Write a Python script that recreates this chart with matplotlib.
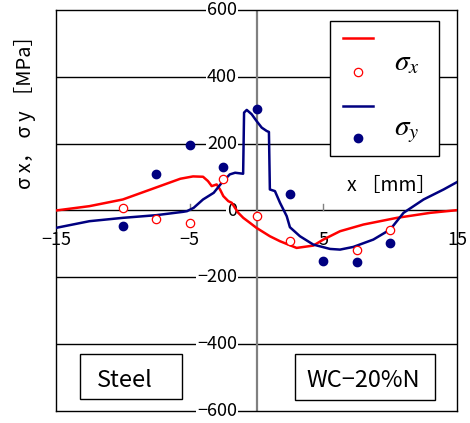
import matplotlib
matplotlib.use("Agg")
import matplotlib.pyplot as plt
from matplotlib.patches import Rectangle
from matplotlib.lines import Line2D

plt.rcParams['font.family'] = ['Noto Sans CJK JP', 'DejaVu Sans']
plt.rcParams['mathtext.fontset'] = 'stix'

# FEM curve sigma_x
sx_line_x = [-15, -12.5, -10, -7.5, -5.7, -4.75, -4.0, -3.63, -3.35, -2.98, -2.73, -2.48,
             -2.11, -1.85, -1.61, -1.36, -0.99, -0.49, 0, 1.0, 1.76, 3.0, 4.25, 5.0,
             6.25, 8.0, 10.5, 13.0, 15]
sx_line_y = [0, 13, 33, 69, 95, 102, 101, 88, 73, 78, 63, 43,
             28, 23, 8, -7, -22, -37, -52, -77, -92, -112, -105, -87,
             -62, -42, -22, -7, 1]

# FEM curve sigma_y
sy_line_x = [-15, -12.5, -10, -7.5, -5.5, -5.2, -4.7, -4.0, -3.2, -2.6, -2.0, -1.6,
             -1.0, -0.93, -0.73, -0.36, 0, 0.39, 0.76, 0.93, 1.0, 1.38, 1.76, 2.26,
             2.5, 3.25, 4.25, 5.5, 6.25, 7.24, 8.74, 10.0, 11.0, 12.5, 14.0, 15]
sy_line_y = [-52, -32, -22, -14, -4, -2, 8, 33, 53, 83, 108, 113,
             110, 293, 301, 288, 268, 248, 238, 235, 63, 58, 23, -17,
             -50, -77, -102, -115, -117, -109, -87, -57, -7, 33, 63, 85]

# measured points
sx_pts_x = [-10, -7.5, -5, -2.5, 0, 2.5, 7.5, 10]
sx_pts_y = [6, -25, -37, 95, -15, -92, -117, -59]
sy_pts_x = [-10, -7.5, -5, -2.5, 0, 2.5, 5, 7.5, 10]
sy_pts_y = [-45, 108, 195, 130, 303, 48, -152, -154, -97]

y_ticks = [600, 400, 200, 0, -200, -400, -600]
x_ticks = [-15, -5, 5, 15]

RED = '#ff0000'
NAVY = '#000080'

fig = plt.figure(figsize=(4.70, 4.23), dpi=100)
ax = fig.add_axes([56/470, 12/423, 401/470, 401/423])
ax.set_xlim(-15, 15)
ax.set_ylim(-600, 600)
ax.set_xticks([])
ax.set_yticks([])
for s in ax.spines.values():
    s.set_color('black')
    s.set_linewidth(1.0)

# grid lines
for v in [400, 200, -200, -400]:
    ax.axhline(v, color='black', lw=1.0, zorder=1)
ax.axhline(0, color='black', lw=1.0, zorder=1)
ax.axvline(0, color='#808080', lw=1.6, zorder=1)

# small tick marks on x axis
for t in [-5, 5]:
    ax.plot([t, t], [0, 18], color='#808080', lw=1.0, zorder=1)

# y tick labels near y-axis
for v in y_ticks:
    lab = str(v).replace('-', '\u2212')
    ax.text(-1.45, v, lab, ha='right', va='center', fontsize=13, zorder=3,
            bbox=dict(facecolor='white', edgecolor='none', pad=0.5))

# x tick labels
for t in x_ticks:
    lab = str(t).replace('-', '\u2212')
    ax.text(t, -87, lab, ha='center', va='center', fontsize=13, zorder=3)

# curves
ax.plot(sx_line_x, sx_line_y, color=RED, lw=1.8, zorder=4)
ax.plot(sy_line_x, sy_line_y, color=NAVY, lw=1.8, zorder=4)
ax.plot(sx_pts_x, sx_pts_y, 'o', mfc='white', mec=RED, mew=0.9, ms=6, ls='none', zorder=5)
ax.plot(sy_pts_x, sy_pts_y, 'o', mfc=NAVY, mec=NAVY, ms=6, ls='none', zorder=5)

# axis labels
ax.text(10.1, 75, 'x \uff3bmm\uff3d', ha='center', va='center', fontsize=14, zorder=3)
fig.text(25/470, 1 - 107/423, '\u03c3 x\uff0c \u03c3 y \uff3bMPa\uff3d', rotation=90,
         ha='center', va='center', fontsize=14.5)

# legend (manual)
T = ax.transAxes
ax.add_patch(Rectangle((0.683, 0.636), 0.272, 0.337, transform=T, facecolor='white',
                       edgecolor='black', lw=1.0, zorder=6))
ax.add_line(Line2D([0.716, 0.790], [0.930, 0.930], transform=T, color=RED, lw=1.8, zorder=7))
ax.add_line(Line2D([0.753], [0.845], transform=T, marker='o', mfc='white', mec=RED,
                   mew=0.9, ms=6, ls='none', zorder=7))
ax.add_line(Line2D([0.716, 0.790], [0.761, 0.761], transform=T, color=NAVY, lw=1.8, zorder=7))
ax.add_line(Line2D([0.753], [0.681], transform=T, marker='o', mfc=NAVY, mec=NAVY,
                   ms=6, ls='none', zorder=7))
ax.text(0.875, 0.870, r'$\sigma_x$', transform=T, ha='center', va='center', fontsize=21, zorder=7)
ax.text(0.875, 0.700, r'$\sigma_y$', transform=T, ha='center', va='center', fontsize=21, zorder=7)

# material boxes
ax.add_patch(Rectangle((0.060, 0.030), 0.254, 0.112, transform=T, facecolor='white',
                       edgecolor='black', lw=1.0, zorder=6))
ax.text(0.172, 0.077, 'Steel', transform=T, ha='center', va='center', fontsize=17, zorder=7)
ax.add_patch(Rectangle((0.596, 0.028), 0.349, 0.114, transform=T, facecolor='white',
                       edgecolor='black', lw=1.0, zorder=6))
ax.text(0.765, 0.077, 'WC\u221220%N', transform=T, ha='center', va='center', fontsize=17, zorder=7)

fig.savefig('out.png', dpi=100)
